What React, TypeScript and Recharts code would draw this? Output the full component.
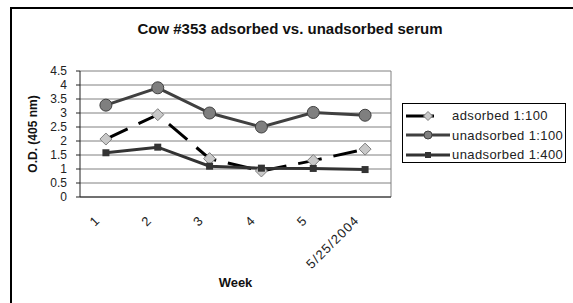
import React from "react";
import { LineChart, Line, XAxis, YAxis, CartesianGrid, ReferenceLine } from "recharts";

const weeks = ["1", "2", "3", "4", "5", "5/25/2004"];
const adsorbed100 = [2.07, 2.94, 1.37, 0.93, 1.3, 1.71];
const unadsorbed100 = [3.28, 3.9, 3.0, 2.5, 3.02, 2.92];
const unadsorbed400 = [1.58, 1.78, 1.1, 1.03, 1.02, 0.98];
const yTicks = [0, 0.5, 1, 1.5, 2, 2.5, 3, 3.5, 4, 4.5];
const bandTicks = [0.5, 1.5, 2.5, 3.5, 4.5, 5.5, 6.5];
const centerTicks = [1, 2, 3, 4, 5, 6];

const data = weeks.map((w, i) => ({
    idx: i + 1,
    week: w,
    adsorbed100: adsorbed100[i],
    unadsorbed100: unadsorbed100[i],
    unadsorbed400: unadsorbed400[i],
}));

const FONT = '"Liberation Sans", Arial, sans-serif';

const Diamond = (props: any) => {
    const { cx, cy, s = 6 } = props;
    if (cx == null || cy == null) return null;
    return <path d={`M${cx},${cy - s}L${cx + s},${cy}L${cx},${cy + s}L${cx - s},${cy}Z`} fill="#c8c8c8" stroke="#808080" strokeWidth={1} />;
};

const Circle = (props: any) => {
    const { cx, cy, s = 6 } = props;
    if (cx == null || cy == null) return null;
    return <circle cx={cx} cy={cy} r={s} fill="#7f7f7f" stroke="#404040" strokeWidth={1} />;
};

const Square = (props: any) => {
    const { cx, cy, s = 3.5 } = props;
    if (cx == null || cy == null) return null;
    return <rect x={cx - s} y={cy - s} width={s * 2} height={s * 2} fill="#333" />;
};

const WeekTick = (props: any) => {
    const { x, y, payload } = props;
    const label = weeks[payload.value - 1];
    return (
        <g transform={`translate(${x - 5},${y + 19})`}>
            <text textAnchor="end" transform="rotate(-45)" fontSize={13} letterSpacing={1.2} fontFamily={FONT} fill="#222">
                {label}
            </text>
        </g>
    );
};

const legendItems = [
    { name: "adsorbed 1:100", color: "#000", dash: "28 20", Marker: Diamond, s: 4.5 },
    { name: "unadsorbed 1:100", color: "#404040", dash: undefined, Marker: Circle, s: 4 },
    { name: "unadsorbed 1:400", color: "#333", dash: undefined, Marker: Square, s: 3 },
];

export default function App() {
    return (
        <div style={{ position: "fixed", left: 0, top: 0, width: 573, height: 303, overflow: "hidden", background: "#fff", fontFamily: FONT }}>
            <div style={{ position: "absolute", left: 10, top: 7, width: 700, height: 400, borderTop: "2px solid #000", borderLeft: "2px solid #000" }} />
            <div style={{ position: "absolute", left: 10, top: 20, width: 560, textAlign: "center", fontWeight: "bold", fontSize: 15, color: "#111" }}>
                Cow #353 adsorbed vs. unadsorbed serum
            </div>
            <div style={{ position: "absolute", left: 0, top: 0 }}>
                <LineChart width={573} height={303} data={data} margin={{ top: 71, right: 182, bottom: 0, left: 0 }}>
                    <CartesianGrid horizontal vertical={false} stroke="#808080" xAxisId="grid" />
                    <XAxis
                        xAxisId="grid"
                        dataKey="idx"
                        type="number"
                        domain={[0.5, 6.5]}
                        ticks={bandTicks}
                        tick={false}
                        tickSize={5}
                        height={5}
                        stroke="#222"
                        allowDataOverflow
                    />
                    <XAxis
                        xAxisId="labels"
                        dataKey="idx"
                        type="number"
                        domain={[0.5, 6.5]}
                        ticks={centerTicks}
                        tick={<WeekTick />}
                        tickLine={false}
                        axisLine={false}
                        tickSize={0}
                        tickMargin={0}
                        height={101}
                        interval={0}
                        label={{ value: "Week", position: "insideBottom", offset: 16, fontWeight: "bold", fontSize: 13, fill: "#111", fontFamily: FONT }}
                    />
                    <YAxis
                        domain={[0, 4.5]}
                        ticks={yTicks}
                        width={80}
                        tickSize={4}
                        tickMargin={9}
                        stroke="#222"
                        interval={0}
                        tick={{ fontSize: 12, fill: "#222", fontFamily: FONT }}
                        label={{ value: "O.D. (405 nm)", angle: -90, position: "center", dx: -7, fontWeight: "bold", fontSize: 12, fill: "#111", fontFamily: FONT }}
                    />
                    <ReferenceLine xAxisId="grid" x={6.5} stroke="#808080" ifOverflow="visible" />
                    <Line xAxisId="grid" dataKey="adsorbed100" stroke="#000" strokeWidth={3} strokeDasharray="24 12" dot={<Diamond />} isAnimationActive={false} />
                    <Line xAxisId="grid" dataKey="unadsorbed100" stroke="#404040" strokeWidth={3} dot={<Circle />} isAnimationActive={false} />
                    <Line xAxisId="grid" dataKey="unadsorbed400" stroke="#333" strokeWidth={3} dot={<Square />} isAnimationActive={false} />
                </LineChart>
            </div>
            <div style={{ position: "absolute", left: 402, top: 103, width: 164, height: 60, border: "1px solid #000", boxSizing: "border-box", paddingTop: 2 }}>
                {legendItems.map(({ name, color, dash, Marker, s }) => (
                    <div key={name} style={{ display: "flex", alignItems: "center", height: 19.5 }}>
                        <svg width={46} height={18} style={{ marginLeft: 2 }}>
                            <line x1={1} y1={9} x2={45} y2={9} stroke={color} strokeWidth={3} strokeDasharray={dash} />
                            <Marker cx={23} cy={9} s={s} />
                        </svg>
                        <span style={{ fontSize: 13, letterSpacing: 0.4, color: "#222", marginLeft: 1 }}>{name}</span>
                    </div>
                ))}
            </div>
        </div>
    );
}
